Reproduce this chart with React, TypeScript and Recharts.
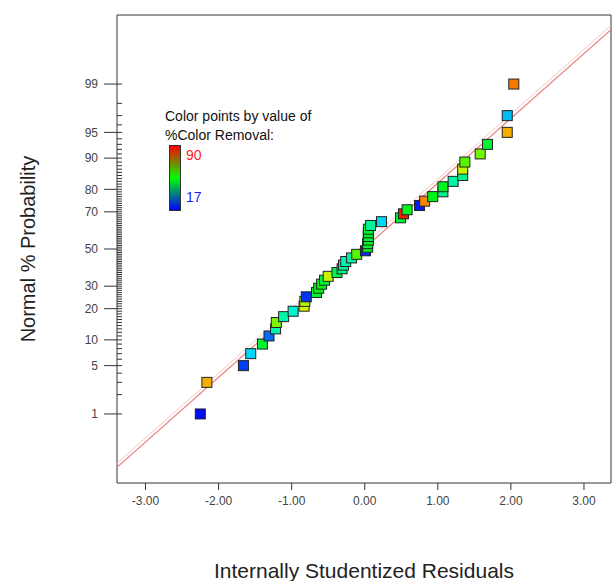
import React from 'react';
import { ScatterChart, Scatter, XAxis, YAxis, ReferenceLine, ReferenceArea } from 'recharts';

const FONT = '"Liberation Sans", Arial, Helvetica, sans-serif';

// internally studentized residuals, ranked low to high
const residuals = [
  -2.25, -2.16, -1.66, -1.56, -1.40, -1.31, -1.22, -1.21, -1.11, -0.98,
  -0.83, -0.82, -0.80, -0.66, -0.63, -0.59, -0.55, -0.50, -0.38, -0.31,
  -0.29, -0.26, -0.18, -0.11, 0.01, 0.04, 0.04, 0.05, 0.05, 0.05,
  0.05, 0.08, 0.23, 0.49, 0.53, 0.58, 0.75, 0.82, 0.93, 1.07,
  1.07, 1.21, 1.34, 1.34, 1.37, 1.58, 1.68, 1.95, 1.95, 2.04,
];

// normal % probability of each ranked residual
const probabilities = [
  1, 3, 5, 7, 9, 11, 13, 15, 17, 19,
  21, 23, 25, 27, 29, 31, 33, 35, 37, 39,
  41, 43, 45, 47, 49, 51, 53, 55, 57, 59,
  61, 63, 65, 67, 69, 71, 73, 75, 77, 79,
  81, 83, 85, 87, 89, 91, 93, 95, 97, 99,
];

// %Color Removal of each run, used to colour its point
const colorRemoval = [
  18, 77, 22, 33, 50, 25, 40, 63, 41, 38,
  69, 67, 21, 50, 52, 52, 49, 68, 48, 44,
  42, 40, 42, 60, 20, 51, 50, 52, 49, 51,
  50, 42, 33, 50, 88, 51, 19, 80, 52, 43,
  51, 41, 43, 68, 60, 62, 50, 77, 31, 81,
];

const xTicks = [-3, -2, -1, 0, 1, 2, 3];
const yMajorTicks = [1, 5, 10, 20, 30, 50, 70, 80, 90, 95, 99];

const COLOR_MIN = 17;
const COLOR_MAX = 90;

const X_MIN = -3.39;
const X_MAX = 3.37;
const Y_MIN = -3.3;
const Y_MAX = 3.3;

// reference line through the residuals
const FIT_SLOPE = 0.913;
const FIT_R0 = -0.017;

// inverse standard normal CDF (Acklam), percent in, z out
function probit(pct: number): number {
  const p = pct / 100;
  const a = [-39.69683028665376, 220.9460984245205, -275.9285104469687, 138.357751867269, -30.66479806614716, 2.506628277459239];
  const b = [-54.47609879822406, 161.5858368580409, -155.6989798598866, 66.80131188771972, -13.28068155288572];
  const c = [-0.007784894002430293, -0.3223964580411365, -2.400758277161838, -2.549732539343734, 4.374664141464968, 2.938163982698783];
  const d = [0.007784695709041462, 0.3224671290700398, 2.445134137142996, 3.754408661907416];
  const pLow = 0.02425;
  if (p < pLow) {
    const q = Math.sqrt(-2 * Math.log(p));
    return (((((c[0] * q + c[1]) * q + c[2]) * q + c[3]) * q + c[4]) * q + c[5]) /
      ((((d[0] * q + d[1]) * q + d[2]) * q + d[3]) * q + 1);
  }
  if (p <= 1 - pLow) {
    const q = p - 0.5;
    const r = q * q;
    return ((((((a[0] * r + a[1]) * r + a[2]) * r + a[3]) * r + a[4]) * r + a[5]) * q) /
      (((((b[0] * r + b[1]) * r + b[2]) * r + b[3]) * r + b[4]) * r + 1);
  }
  const q = Math.sqrt(-2 * Math.log(1 - p));
  return -(((((c[0] * q + c[1]) * q + c[2]) * q + c[3]) * q + c[4]) * q + c[5]) /
    ((((d[0] * q + d[1]) * q + d[2]) * q + d[3]) * q + 1);
}

const colorFor = (v: number) => {
  const t = Math.min(1, Math.max(0, (v - COLOR_MIN) / (COLOR_MAX - COLOR_MIN)));
  return `hsl(${Math.round(240 * (1 - t))}, 100%, 48%)`;
};

const fitZ = (r: number) => FIT_SLOPE * (r - FIT_R0);

const points = residuals.map((r, i) => ({
  r,
  z: probit(probabilities[i]),
  v: colorRemoval[i],
}));

// every whole percent gets a short inner tick, majors get a label
const minorPercents = Array.from({ length: 98 }, (_, i) => i + 1).filter((p) => !yMajorTicks.includes(p));
const majorLabels = new Map<number, string>(yMajorTicks.map((p) => [probit(p), String(p)]));
const yTicks = [...minorPercents.map(probit), ...yMajorTicks.map(probit)].sort((m, n) => m - n);

const ProbabilityTick = (props: any) => {
  const { x, y, payload } = props;
  const label = majorLabels.get(payload.value);
  if (label === undefined) {
    return <line x1={x} x2={x + 5} y1={y} y2={y} stroke="#333" strokeWidth={1} />;
  }
  return (
    <g>
      <line x1={x - 13} x2={x + 5} y1={y} y2={y} stroke="#333" strokeWidth={1} />
      <text x={x - 19} y={y} dy="0.35em" textAnchor="end" fill="#444" fontSize={12} fontFamily={FONT}>
        {label}
      </text>
    </g>
  );
};

const SquareMarker = (props: any) => {
  const { cx, cy, payload } = props;
  return (
    <rect x={cx - 5} y={cy - 5} width={10} height={10} fill={colorFor(payload.v)} stroke="#222" strokeWidth={1} />
  );
};

const ColorKey = () => (
  <div style={{ position: 'absolute', left: 0, top: 0, fontFamily: FONT, color: '#111', pointerEvents: 'none' }}>
    <div style={{ position: 'absolute', left: 165, top: 108, fontSize: 14, lineHeight: '16px', whiteSpace: 'nowrap' }}>
      Color points by value of
    </div>
    <div style={{ position: 'absolute', left: 165, top: 127, fontSize: 14, lineHeight: '16px', whiteSpace: 'nowrap' }}>
      %Color Removal:
    </div>
    <div
      style={{
        position: 'absolute',
        left: 169,
        top: 145,
        width: 10,
        height: 64,
        border: '1px solid #333',
        background: 'linear-gradient(to bottom, #ff0000, #00ff00, #0000ff)',
      }}
    />
    <div style={{ position: 'absolute', left: 186, top: 147, fontSize: 14, lineHeight: '16px', color: '#ff1a1a' }}>
      {COLOR_MAX}
    </div>
    <div style={{ position: 'absolute', left: 186, top: 189, fontSize: 14, lineHeight: '16px', color: '#1a1aff' }}>
      {COLOR_MIN}
    </div>
  </div>
);

export default function App() {
  return (
    <div style={{ position: 'absolute', left: 0, top: 0, width: 613, height: 581, background: '#fff' }}>
      <ScatterChart width={613} height={581} margin={{ top: 15, right: 2, bottom: 0, left: 0 }}>
        <XAxis
          type="number"
          dataKey="r"
          domain={[X_MIN, X_MAX]}
          ticks={xTicks}
          interval={0}
          allowDataOverflow
          height={98}
          axisLine={false}
          tickSize={7}
          tickMargin={6}
          tickLine={{ stroke: '#333' }}
          tick={{ fill: '#444', fontSize: 12, fontFamily: FONT }}
          tickFormatter={(v: number) => v.toFixed(2)}
          label={{
            value: 'Internally Studentized Residuals',
            position: 'insideBottom',
            offset: 3,
            fill: '#222',
            fontSize: 21,
            fontFamily: FONT,
          }}
        />
        <YAxis
          type="number"
          dataKey="z"
          domain={[Y_MIN, Y_MAX]}
          ticks={yTicks}
          interval={0}
          allowDataOverflow
          width={117}
          axisLine={false}
          tickLine={false}
          tickSize={0}
          tickMargin={0}
          tick={<ProbabilityTick />}
          label={{
            value: 'Normal % Probability',
            angle: -90,
            position: 'insideLeft',
            offset: 28,
            fill: '#222',
            fontSize: 20,
            fontFamily: FONT,
            style: { textAnchor: 'middle' },
          }}
        />
        <ReferenceArea
          x1={X_MIN}
          x2={X_MAX}
          y1={Y_MIN}
          y2={Y_MAX}
          fill="none"
          stroke="#333"
          strokeWidth={1}
          ifOverflow="visible"
        />
        <ReferenceLine
          segment={[
            { x: X_MIN, y: fitZ(X_MIN) + 0.06 },
            { x: X_MAX, y: fitZ(X_MAX) + 0.06 },
          ]}
          stroke="#f7c6c6"
          strokeWidth={1}
          ifOverflow="hidden"
        />
        <ReferenceLine
          segment={[
            { x: X_MIN, y: fitZ(X_MIN) },
            { x: X_MAX, y: fitZ(X_MAX) },
          ]}
          stroke="#ec8585"
          strokeWidth={1.3}
          ifOverflow="hidden"
        />
        <Scatter data={points} shape={<SquareMarker />} isAnimationActive={false} />
      </ScatterChart>
      <ColorKey />
    </div>
  );
}
